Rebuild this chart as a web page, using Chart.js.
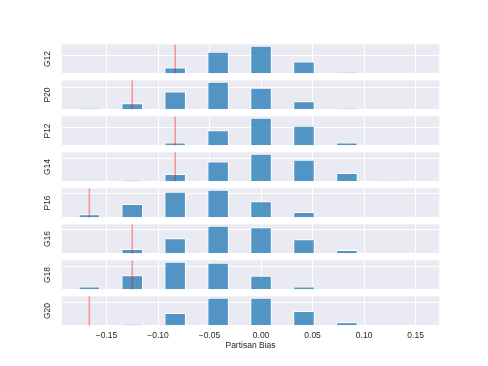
<!DOCTYPE html>
<html><head><meta charset="utf-8">
<script src="https://cdn.jsdelivr.net/npm/chart.js@4/dist/chart.umd.min.js"></script>
<style>
html,body{margin:0;padding:0;background:#fff;}
#wrap{position:relative;width:488px;height:366px;overflow:hidden;background:#fff;}
#wrap canvas{position:absolute;left:0;}
</style></head><body><div id="wrap"></div>
<script>
// ---- data ----
const panelLabels = ["G12", "P20", "P12", "G14", "P16", "G16", "G18", "G20"];
const binCenters = [-4/24, -3/24, -2/24, -1/24, 0, 1/24, 2/24, 3/24];
const G12 = [0, 0, 3.4, 12.0, 15.3, 6.6, 0.7, 0];
const P20 = [0.6, 2.9, 8.3, 12.7, 10.0, 3.8, 0.6, 0];
const P12 = [0, 0, 1.8, 8.4, 15.3, 10.9, 1.8, 0];
const G14 = [0, 0.6, 3.3, 8.7, 12.0, 9.4, 3.7, 0.3];
const P16 = [1.4, 5.6, 10.7, 11.5, 6.8, 2.3, 0.25, 0];
const G16 = [0, 1.9, 6.3, 11.4, 10.8, 5.9, 1.5, 0];
const G18 = [1.4, 6.2, 12.0, 11.6, 6.0, 1.4, 0, 0];
const G20 = [0, 0.7, 5.4, 12.0, 12.0, 6.3, 1.5, 0];
const panelValues = [G12, P20, P12, G14, P16, G16, G18, G20];
const markerValues = [-2/24, -3/24, -2/24, -2/24, -4/24, -3/24, -3/24, -4/24];
const xTickValues = [-0.15, -0.10, -0.05, 0.00, 0.05, 0.10, 0.15];
const yGridValues = [0, 10];
const xTitle = "Partisan Bias";

// ---- layout ----
const W = 488, H = 366;
const plotLeft = 61.7, plotRight = 439.3;
const firstTop = 44.3, step = 36.0, panelH = 29.4;
const xMin = -0.1935, xMax = 0.173;

Chart.defaults.font.family = "'Liberation Sans', Arial, sans-serif";
Chart.defaults.font.size = 8.5;
Chart.defaults.color = '#262626';

const bgPlugin = {
  id: 'panelBg',
  beforeDraw(chart) {
    const a = chart.chartArea, ctx = chart.ctx;
    ctx.save();
    ctx.fillStyle = '#eaeaf2';
    ctx.fillRect(a.left, a.top, a.right - a.left, a.bottom - a.top);
    ctx.restore();
  }
};

const wrap = document.getElementById('wrap');
panelLabels.forEach((label, i) => {
  const isLast = i === panelLabels.length - 1;
  const t = firstTop + step * i;
  const b = t + panelH;
  const cTop = Math.floor(t);
  const cBottom = isLast ? H : Math.ceil(b);
  const cv = document.createElement('canvas');
  cv.width = W; cv.height = cBottom - cTop;
  cv.style.top = cTop + 'px';
  cv.style.width = W + 'px'; cv.style.height = (cBottom - cTop) + 'px';
  wrap.appendChild(cv);
  const vals = panelValues[i];
  const yMax = Math.max(...vals) * 1.05;
  new Chart(cv, {
    type: 'bar',
    data: {
      datasets: [
        {
          type: 'line',
          data: [{x: markerValues[i], y: 0}, {x: markerValues[i], y: yMax}],
          borderColor: 'rgba(255,0,0,0.35)',
          borderWidth: 1.6,
          pointRadius: 0,
          order: 0
        },
        {
          type: 'bar',
          data: binCenters.map((c, k) => ({x: c, y: vals[k]})),
          backgroundColor: 'rgba(31,119,180,0.75)',
          borderColor: '#ffffff',
          borderWidth: 1,
          borderSkipped: 'start',
          barPercentage: 0.5,
          categoryPercentage: 1.0,
          order: 1
        }
      ]
    },
    options: {
      responsive: false,
      animation: false,
      events: [],
      layout: { padding: { top: t - cTop, bottom: isLast ? 0 : cBottom - b, left: 0, right: W - plotRight } },
      plugins: { legend: { display: false }, tooltip: { enabled: false } },
      scales: {
        x: {
          type: 'linear',
          min: xMin, max: xMax,
          offset: false,
          grid: { color: '#ffffff', lineWidth: 1, drawTicks: false, offset: false },
          border: { display: false },
          afterBuildTicks: s => { s.ticks = xTickValues.map(v => ({value: v})); },
          ticks: {
            display: isLast,
            padding: 5,
            color: '#262626',
            font: { size: 8.5 },
            maxRotation: 0,
            autoSkip: false,
            callback: v => v.toFixed(2).replace('-', '\u2212')
          },
          title: {
            display: isLast,
            text: xTitle,
            color: '#262626',
            font: { size: 8.5 },
            padding: { top: 0, bottom: 15 }
          },
          afterFit: s => { s.height = isLast ? (H - b) : 0; }
        },
        y: {
          min: 0, max: yMax,
          grid: { color: '#ffffff', lineWidth: 1, drawTicks: false },
          border: { display: false },
          afterBuildTicks: s => { s.ticks = yGridValues.filter(v => v <= yMax).map(v => ({value: v})); },
          ticks: { display: false },
          title: {
            display: true,
            text: label,
            color: '#262626',
            font: { size: 8.5 },
            padding: { top: 42.2, bottom: 0 }
          },
          afterFit: s => { s.width = plotLeft; }
        }
      }
    },
    plugins: [bgPlugin]
  });
});
</script>
</body></html>
